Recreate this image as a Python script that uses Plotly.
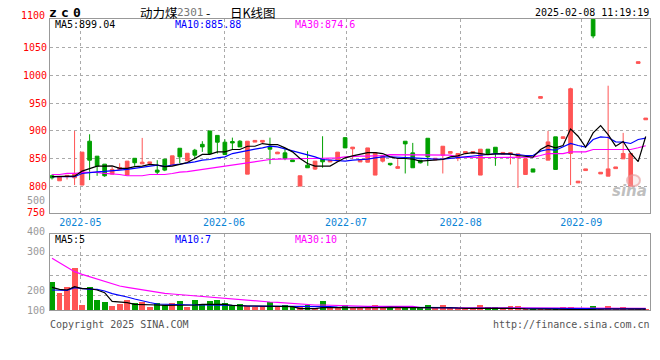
import plotly.graph_objects as go

# ---------------- data ----------------
idx = list(range(80))

opens = [819.7, 810.7, 818, 816, 803, 881.6, 854.8, 840.5, 822.6, 831,
         820.9, 851, 841, 841.5, 829.8, 849.4, 838.7, 869, 846.5, 865.5,
         876, 900, 892, 879.8, 881, 881.6, 822.6, 880, 880, 872.6,
         859, 860.7, 848, 801.2, 838.7, 831.6, 849.4, 844.5, 846, 888,
         868, 844.5, 844, 820.9, 845.9, 842, 833, 881.6, 860.7, 847.6,
         886.9, 848, 856.6, 860, 850.6, 860, 860, 820.9, 867.3, 870.8,
         858.5, 858, 852, 822, 832, 958.5, 847.7, 889.4, 886.5, 859.6,
         807, 829, 1100, 823, 819, 832.5, 850, 801.3, 1021, 920]
closes = [816, 817.9, 820.5, 824, 862, 847.6, 837, 819.7, 831, 834.5,
          845.9, 843, 844, 844.5, 826.2, 829.8, 855.4, 853.6, 860, 856.6,
          871.4, 859.5, 879.8, 857.7, 878.5, 871.4, 881.6, 883, 883, 867.3,
          862, 850.6, 845, 819.7, 834, 845.9, 844.7, 847.5, 862, 869.6,
          871, 847.5, 869.6, 861.3, 855.4, 839.5, 836, 876.8, 834, 842.9,
          853.6, 851, 872.6, 863, 859.5, 863, 863, 867.3, 859.5, 860.7,
          861.5, 861, 859, 850, 826.3, 961.5, 880.4, 831, 889.5, 975.6,
          810, 832, 1070.2, 826, 832, 835.5, 859.6, 859.6, 1024, 923]
highs = [822, 817.9, 820.5, 900, 862, 894, 854.8, 840.5, 835.7, 842,
         845.9, 851, 887.5, 844.5, 847.6, 849.4, 855.4, 869, 860, 867.9,
         881.6, 900, 892, 885, 888, 883.4, 881.6, 883, 883, 888,
         862.5, 867.3, 848, 819.7, 863.7, 845.9, 890.5, 847.5, 862, 888,
         871, 847.5, 869.6, 861.3, 855.4, 842, 849.4, 881.6, 878.6, 847.6,
         886.9, 851, 872.6, 863, 859.5, 863, 863, 867.3, 867.3, 870.8,
         861.5, 861, 859, 850, 832, 961.5, 900, 889.4, 889.5, 977.4,
         810, 832, 1100, 826, 981, 835.5, 896.5, 859.6, 1024, 923]
lows = [813, 810.7, 813, 803, 803, 812, 819.6, 817.9, 822.6, 831,
        820.9, 837.5, 841, 841.5, 822, 828, 838.7, 841.7, 846.5, 849.4,
        862.5, 859.5, 859.5, 857.7, 866.7, 871.4, 822.6, 880, 877.4, 840.5,
        859, 847.6, 845, 801.2, 834, 830, 834, 844.5, 846, 869.6,
        850, 844.5, 844, 820.9, 843.5, 837.5, 833, 823.8, 834, 841.7,
        837.5, 848, 823.8, 860, 845.9, 860, 860, 820.9, 859.5, 837.5,
        858.5, 840, 798, 822, 826.3, 958.5, 847.7, 831, 886.5, 803,
        807, 829, 1066, 823, 819, 832.5, 850, 801.3, 1021, 920]

ma5 = [818, 818, 818, 819, 828, 833, 837, 837, 837.5, 833,
       833, 836, 837, 840, 839, 836, 837, 840, 843.5, 850.6,
       858, 858, 862.5, 862.5, 866.7, 866.7, 872.6, 872.6, 877.4, 875.6,
       875.6, 869.6, 862.5, 850.6, 841.7, 837, 837, 837, 844.7, 851.8,
       855.4, 858, 861.3, 861.3, 859.5, 853.6, 850.6, 850.6, 849.4, 845.9,
       847, 848.2, 848.8, 853.6, 855.4, 859.5, 861.3, 859.5, 857.7, 859,
       859.6, 859, 856, 854.8, 853, 866.7, 873.9, 869.8, 873.9, 903.6,
       890.5, 870.9, 896.5, 909.6, 893.5, 872.7, 881, 860, 845, 890]
ma10 = [818, 818, 818, 818, 823.8, 825.5, 826.8, 827.4, 828, 829.8,
        831, 832.8, 835, 837, 838.7, 836, 839, 840.5, 842.3, 844.7,
        847.6, 848.8, 851.8, 853.6, 859.5, 862.5, 865.5, 867.3, 869.7, 872.6,
        871.4, 868.5, 864.3, 860.7, 857.8, 853.6, 848.8, 847.6, 846.5, 845.9,
        847.6, 848.2, 849.4, 851.8, 853.6, 853.6, 853.6, 852.4, 851.8, 850.6,
        849.4, 849.4, 849.4, 850.6, 851.8, 853.6, 854.8, 855.4, 857.8, 859.5,
        859, 859, 857.8, 856, 856, 863.8, 866.7, 865.5, 870.9, 877.5,
        873.9, 870.9, 884.6, 889.4, 888.2, 880.4, 879.8, 877.5, 884.6, 887]
ma30 = [822, 822, 823.8, 823.8, 825.6, 825.6, 825.6, 823.8, 823, 822,
        819.7, 819.7, 819.7, 822, 822, 822, 823.8, 826.2, 827, 829,
        831, 832.8, 835.7, 837, 840, 841.7, 843.5, 845.3, 847.6, 848.8,
        849.4, 850, 850.6, 850.6, 850.6, 850.6, 850.6, 850.6, 851.8, 853.6,
        854.8, 854.8, 854.8, 854.8, 856, 857.7, 857.7, 857.7, 857.7, 857.7,
        856.6, 856.6, 856.6, 856.6, 853, 852.4, 852.4, 852.4, 852.4, 852.4,
        853, 853, 853, 853, 853, 856, 859.5, 859.5, 859.5, 862.5,
        862.5, 862.5, 866.7, 866.7, 866.7, 866.7, 866.7, 866.7, 869.8, 873.5]

volumes = [166, 100, 136, 252, 30, 136, 58, 46, 22, 34,
           58, 40, 50, 16, 40, 28, 40, 52, 16, 58,
           34, 52, 58, 40, 22, 34, 22, 16, 24, 46,
           22, 28, 22, 16, 28, 10, 52, 16, 16, 28,
           16, 10, 10, 28, 16, 16, 16, 16, 16, 16,
           28, 10, 28, 10, 10, 10, 10, 28, 16, 16,
           10, 22, 22, 10, 4, 4, 4, 4, 16, 16,
           4, 4, 22, 4, 22, 4, 16, 4, 4, 4]
vma5 = [136, 124, 120, 140, 128, 128, 120, 104, 52, 48,
        44, 34, 34, 34, 30, 28, 28, 28, 28, 30,
        34, 34, 34, 34, 28, 24, 24, 24, 24, 24,
        24, 24, 20, 8, 8, 8, 14, 14, 14, 12,
        10, 10, 10, 12, 14, 16, 16, 16, 14, 12,
        12, 12, 14, 14, 12, 10, 10, 10, 12, 12,
        10, 10, 9, 7, 6, 5, 3, 3, 3, 3,
        3, 3, 5, 5, 6, 6, 6, 5, 5, 5]
vma10 = [120, 118, 118, 134, 128, 124, 124, 114, 98, 90,
         78, 66, 54, 45, 36, 34, 32, 30, 30, 30,
         30, 30, 30, 30, 28, 27, 24, 24, 22, 22,
         21, 21, 21, 20, 20, 20, 20, 20, 18, 18,
         16, 16, 15, 15, 14, 14, 14, 14, 14, 14,
         14, 14, 14, 14, 12, 12, 12, 12, 12, 12,
         12, 12, 12, 11, 10, 10, 9, 9, 9, 8,
         8, 8, 8, 7, 7, 7, 7, 7, 7, 7]
vma30 = [310, 284, 258, 230, 214, 200, 184, 170, 158, 144,
         136, 128, 120, 112, 106, 100, 96, 92, 88, 84,
         80, 76, 72, 68, 64, 60, 56, 52, 50, 48,
         46, 42, 38, 34, 32, 30, 30, 28, 28, 28,
         22, 22, 22, 22, 22, 22, 22, 22, 22, 14,
         14, 14, 14, 14, 14, 14, 14, 14, 14, 14,
         10, 10, 10, 10, 10, 10, 10, 10, 10, 10,
         10, 10, 10, 10, 10, 10, 10, 10, 10, 10]

month_pos = [3.77, 22.89, 39.12, 54.38, 70.43]
month_labels = ["2022-05", "2022-06", "2022-07", "2022-08", "2022-09"]
price_ticks = [800, 850, 900, 950, 1000, 1050]

# ---------------- styling ----------------
RED = "#ff5555"
GREEN = "#00a000"
MONO = "DejaVu Sans Mono"
L, R, T, B = 50, 650, 19, 310


def px(x):
    return (x - L) / (R - L)


def py(y):
    return (B - y) / (B - T)


vol_colors = [RED if c >= o else GREEN for o, c in zip(opens, closes)]

fig = go.Figure()
fig.add_trace(go.Candlestick(
    x=idx, open=opens, high=highs, low=lows, close=closes,
    increasing=dict(line=dict(color=RED, width=1), fillcolor=RED),
    decreasing=dict(line=dict(color=GREEN, width=1), fillcolor=GREEN),
    whiskerwidth=0, hoverinfo="skip", showlegend=False,
    xaxis="x", yaxis="y"))
for arr, col in [(ma30, "#ff00ff"), (ma10, "#0000ff"), (ma5, "#000000")]:
    fig.add_trace(go.Scatter(x=idx, y=arr, mode="lines",
                             line=dict(color=col, width=1.2),
                             hoverinfo="skip", showlegend=False,
                             xaxis="x", yaxis="y"))

fig.add_trace(go.Bar(x=idx, y=volumes, marker=dict(color=vol_colors, line=dict(width=0)),
                     width=0.78, hoverinfo="skip", showlegend=False,
                     xaxis="x2", yaxis="y2"))
for arr, col in [(vma30, "#ff00ff"), (vma10, "#0000ff"), (vma5, "#000000")]:
    fig.add_trace(go.Scatter(x=idx, y=arr, mode="lines",
                             line=dict(color=col, width=1.2),
                             hoverinfo="skip", showlegend=False,
                             xaxis="x2", yaxis="y2"))

xr = [-0.27, 79.57]
grid = dict(showgrid=True, gridcolor="#aaaaaa", griddash="dot", gridwidth=1,
            zeroline=False, showline=True, linecolor="#999999", linewidth=1,
            mirror=True, ticks="", automargin=False)

ann = []


def add(text, x, y, color="#000", size=10, xanchor="left", family=MONO, yanchor="middle"):
    ann.append(dict(text=text, x=px(x), y=py(y), xref="paper", yref="paper",
                    xanchor=xanchor, yanchor=yanchor, showarrow=False,
                    font=dict(family=family, size=size, color=color)))


# header
for ch, xc in [("z", 53.3), ("c", 64.7), ("0", 76.7)]:
    ann.append(dict(text="<b>%s</b>" % ch, x=px(xc), y=py(12), xref="paper", yref="paper",
                    xanchor="center", yanchor="middle", showarrow=False,
                    font=dict(family=MONO, size=13, color="#000")))
add('动力煤', 138, 12, size=12.5, family="Noto Sans CJK SC")
add('2301', 175, 12.5, size=11, color="#777777")
add('-', 204, 12, size=12.5, family="Noto Sans CJK SC")
add('日K线图', 228, 12, size=12.5, family="Noto Sans CJK SC")
add("2025-02-08 11:19:19", 651, 12, xanchor="right")
add("1100", 47, 15.7, color="#ff0000", xanchor="right")
add("MA5:899.04", 53, 24.5)
add("MA10:885.88", 173, 24.5, color="#0000ff")
add("MA30:874.6", 293, 24.5, color="#ff00ff")
add("500", 47, 200.7, color="#999999", xanchor="right")
add("750", 47, 212.7, color="#ff0000", xanchor="right")
# volume panel
add("400", 47, 231, color="#999999", xanchor="right")
add("300", 47, 251.7, color="#999999", xanchor="right")
add("200", 47, 290.3, color="#999999", xanchor="right")
add("100", 47, 310.7, color="#999999", xanchor="right")
add("MA5:5", 53, 239.5)
add("MA10:7", 173, 239.5, color="#0000ff")
add("MA30:10", 293, 239.5, color="#ff00ff")
# footer
add("Copyright 2025 SINA.COM", 48, 324, color="#555555")
add("http://finance.sina.com.cn", 652, 324, color="#555555", xanchor="right")
# watermark
ann.append(dict(text="<b><i>sina</i></b>", x=px(649), y=py(191), xref="paper", yref="paper",
                xanchor="right", yanchor="middle", showarrow=False,
                font=dict(family="DejaVu Sans", size=15, color="rgba(170,170,170,0.75)")))

shapes = [dict(type="circle", xref="paper", yref="paper",
               x0=px(627), x1=px(640), y0=py(186), y1=py(175),
               line=dict(color="rgba(230,150,150,0.6)", width=2),
               fillcolor="rgba(240,200,200,0.3)")]

fig.update_layout(
    template="none",
    width=660, height=360, autosize=False,
    margin=dict(l=L, r=660 - R, t=T, b=360 - B, pad=0),
    paper_bgcolor="white", plot_bgcolor="white",
    font=dict(family=MONO, size=10),
    showlegend=False, bargap=0,
    xaxis=dict(domain=[0, 1], range=xr, anchor="y", tickvals=month_pos, ticktext=month_labels,
               tickfont=dict(family=MONO, size=10, color="#0a84d6"),
               rangeslider=dict(visible=False), **grid),
    yaxis=dict(domain=[(B - 213) / (B - T), 1], range=[753, 1100.5], anchor="x",
               tickvals=price_ticks, tickfont=dict(family=MONO, size=10, color="#ff0000"),
               **grid),
    xaxis2=dict(domain=[0, 1], range=xr, anchor="y2", tickvals=month_pos,
                showticklabels=False, **grid),
    yaxis2=dict(domain=[0, (B - 234) / (B - T)], range=[0, 456], anchor="x2",
                tickvals=[86, 210, 330], showticklabels=False, **grid),
    annotations=ann, shapes=shapes,
)

fig.write_html("out.html", config={"displayModeBar": False},
               post_script="document.body.style.margin='0';document.body.style.overflow='hidden';")
